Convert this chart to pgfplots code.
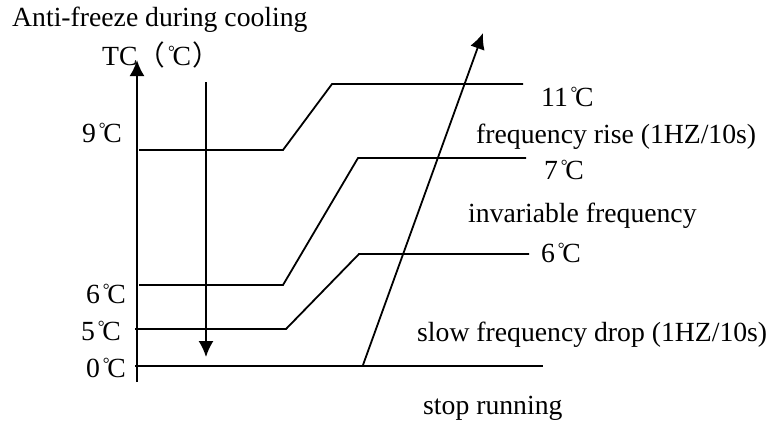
\documentclass[border=0pt]{standalone}
\usepackage{pgfplots}
\pgfplotsset{compat=1.18}
\usetikzlibrary{arrows.meta}
\usepackage{fontspec}
\setmainfont{Liberation Serif}
\newfontfamily\cjk{Noto Sans CJK SC}
\newcommand{\dC}{\makebox[1em][l]{\hspace{0.1em}\raisebox{7.8pt}{\fontsize{17}{17}\selectfont °}\hspace{-2.2pt}C}}
\tikzset{lbl/.style={anchor=base west, inner sep=0pt, font=\fontsize{27.7}{30}\selectfont}}
\begin{document}
\begin{tikzpicture}
\begin{axis}[width=771pt,height=423pt,scale only axis,
  xmin=0,xmax=771,ymin=0,ymax=423,y dir=reverse,
  hide axis,clip=false]
\addplot[draw=none] coordinates {(0,0) (771,423)};
% axis and arrows
\addplot[black,line width=2.2pt,-{Latex[length=16pt,width=15pt]}] coordinates {(137,382) (137,60)};
\addplot[black,line width=1.8pt,-{Latex[length=16pt,width=15pt]}] coordinates {(206,82) (206,357)};
\addplot[black,line width=1.8pt,-{Latex[length=16pt,width=15pt]}] coordinates {(363,365) (483,33)};
% threshold lines
\addplot[black,line width=1.8pt] coordinates {(135,366) (543,366)};
\addplot[black,line width=1.8pt] coordinates {(135,329) (286,329) (359,254) (529,254)};
\addplot[black,line width=1.8pt] coordinates {(139,285) (283,285) (358,158) (526,158)};
\addplot[black,line width=1.8pt] coordinates {(139,150) (283,150) (332,84) (523,84)};
% texts
\node[lbl] at (axis cs:12,27) {Anti-freeze during cooling};
\node[lbl] at (axis cs:102,65) {TC{\cjk （}\dC{\cjk ）}};
\node[lbl] at (axis cs:82,142) {9\dC};
\node[lbl] at (axis cs:86,303) {6\dC};
\node[lbl] at (axis cs:81,340) {5\dC};
\node[lbl] at (axis cs:86,377) {0\dC};
\node[lbl] at (axis cs:541,106) {11\dC};
\node[lbl] at (axis cs:476,143) {frequency rise (1HZ/10s)};
\node[lbl] at (axis cs:544,179) {7\dC};
\node[lbl] at (axis cs:468,222) {invariable frequency};
\node[lbl] at (axis cs:541,262) {6\dC};
\node[lbl] at (axis cs:417,341) {slow frequency drop (1HZ/10s)};
\node[lbl] at (axis cs:423,414) {stop running};
\end{axis}
\end{tikzpicture}
\end{document}
